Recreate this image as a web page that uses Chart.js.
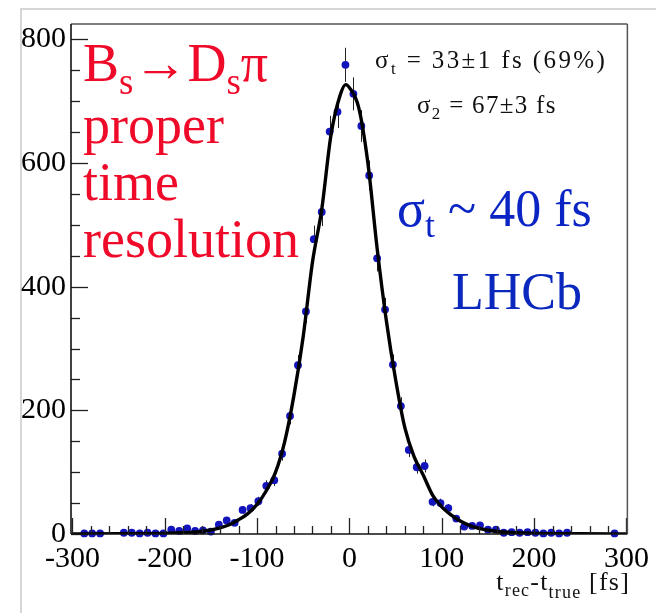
<!DOCTYPE html>
<html><head><meta charset="utf-8">
<script src="https://cdn.jsdelivr.net/npm/chart.js@4.4.1/dist/chart.umd.min.js"></script>
<style>
html,body{margin:0;padding:0;background:#fff;}
#wrap{position:relative;width:656px;height:613px;overflow:hidden;background:#fff;}
#c{position:absolute;left:0;top:0;}
.pad{position:absolute;left:20px;top:8px;width:640px;height:610px;border-top:2px solid #d6d6d6;border-left:2px solid #d6d6d6;}
.t{position:absolute;white-space:nowrap;font-family:"Liberation Serif","Times New Roman",serif;line-height:1;}
.sub{position:relative;}
</style></head>
<body><div id="wrap"><div class="pad"></div><canvas id="c" width="656" height="613"></canvas>
<div class="t" style="left:83px;top:35px;font-size:54px;line-height:57px;color:#f00a2a;">B<span class="sub" style="font-size:37px;top:13px">s</span>→D<span class="sub" style="font-size:37px;top:13px">s</span>π<br>proper<br>time<br>resolution</div>
<div class="t" style="left:375px;top:47px;font-size:25px;letter-spacing:2.4px;color:#111;">σ<span class="sub" style="font-size:17px;top:6px">t</span> = 33±1 fs (69%)</div>
<div class="t" style="left:417px;top:92px;font-size:25px;letter-spacing:1.3px;color:#111;">σ<span class="sub" style="font-size:17px;top:6px">2</span> = 67±3 fs</div>
<div class="t" style="left:397px;top:183px;font-size:52px;color:#0b24c4;">σ<span class="sub" style="font-size:36px;top:11px">t</span> ~ 40 fs</div>
<div class="t" style="left:452px;top:266px;font-size:52px;color:#0a28bd;">LHCb</div>
<div class="t" style="right:26px;top:569px;font-size:26px;letter-spacing:1.2px;color:#111;">t<span class="sub" style="font-size:18px;top:6px">rec</span>-t<span class="sub" style="font-size:18px;top:8px">true</span> [fs]</div>
</div>
<script>
const binCenters = [-295.7,-287.1,-278.6,-270.0,-261.4,-252.9,-244.3,-235.7,-227.1,-218.6,
 -210.0,-201.4,-192.9,-184.3,-175.7,-167.1,-158.6,-150.0,-141.4,-132.9,
 -124.3,-115.7,-107.1,-98.6,-90.0,-81.4,-72.9,-64.3,-55.7,-47.1,
 -38.6,-30.0,-21.4,-12.9,-4.3,4.3,12.9,21.4,30.0,38.6,
 47.1,55.7,64.3,72.9,81.4,90.0,98.6,107.1,115.7,124.3,
 132.9,141.4,150.0,158.6,167.1,175.7,184.3,192.9,201.4,210.0,
 218.6,227.1,235.7,244.3,252.9,261.4,270.0,278.6,287.1,295.7];
const counts = [null,1,1,1,null,null,2,2,1,2,
 1,1,7,5,9,5,6,4,15,22,
 18,39,42,53,78,87,130,191,273,360,
 477,521,651,683,759,712,660,580,446,363,
 274,207,136,108,110,52,50,42,25,12,
 13,14,7,7,2,3,2,3,2,1,
 2,1,2,null,null,null,null,null,1,null];
const fitX = [-300,-250,-200,-180,-160,-140,-130,-120,-110,-100,-90,-80,-70,-60,-50,-40,-30,-20,-10,-4,0,10,20,30,40,50,60,70,80,90,100,110,120,130,140,160,180,200,250,300];
const fitY = [0,0.3,1,2,4,10,15,23,33,48,70,100,150,225,320,440,525,645,710,727,722,690,600,462,345,250,172,125,95,63,44,31,21,14,9,4,2,1,0.3,0];
const xTicks = [-300,-200,-100,0,100,200,300];
const yTicks = [0,200,400,600,800];

const pts = [];
binCenters.forEach((c,i)=>{ if(counts[i]!==null) pts.push({x:c,y:counts[i]}); });
const fit = fitX.map((v,i)=>({x:v,y:fitY[i]}));
const FONT = '"Liberation Serif","Times New Roman",serif';

const errBars = {
  id:'errBars',
  beforeDatasetsDraw(chart){
    const {ctx, scales:{x,y}} = chart;
    ctx.save(); ctx.strokeStyle='#222'; ctx.lineWidth=1;
    pts.forEach(p=>{
      const e = Math.sqrt(p.y);
      const px = Math.round(x.getPixelForValue(p.x))+0.5;
      ctx.beginPath();
      ctx.moveTo(px, y.getPixelForValue(Math.max(0,p.y-e)));
      ctx.lineTo(px, y.getPixelForValue(p.y+e));
      ctx.stroke();
    });
    ctx.restore();
  }
};
const frameTicks = {
  id:'frameTicks',
  afterDraw(chart){
    const {ctx, chartArea:a, scales:{x,y}} = chart;
    ctx.save();
    const line=(x1,y1,x2,y2)=>{ctx.beginPath();ctx.moveTo(x1,y1);ctx.lineTo(x2,y2);ctx.stroke();};
    ctx.strokeStyle='#222'; ctx.lineWidth=1.3;
    for(let v=0; v<=800; v+=50){
      const py=Math.round(y.getPixelForValue(v))+0.5;
      line(a.left, py, a.left+(yTicks.includes(v)?17:9), py);
    }
    for(let v=-300; v<=300; v+=20){
      const px=Math.round(x.getPixelForValue(v))+0.5;
      line(px, a.bottom, px, a.bottom-(xTicks.includes(v)?16:8));
    }
    ctx.strokeStyle='#555'; ctx.lineWidth=1.5;
    line(a.left, a.top, a.right, a.top);
    line(a.right, a.top, a.right, a.bottom);
    ctx.strokeStyle='#111'; ctx.lineWidth=1.6;
    line(a.left, a.top, a.left, a.bottom);
    line(a.left, a.bottom, a.right, a.bottom);
    ctx.restore();
  }
};

new Chart(document.getElementById('c'), {
  type:'scatter',
  data:{ datasets:[
    {type:'line', data:fit, borderColor:'#000', borderWidth:3.4, pointRadius:0, cubicInterpolationMode:'monotone', fill:false, order:0},
    {type:'scatter', data:pts, backgroundColor:'#1414bc', borderWidth:0, pointRadius:3.9, order:1, clip:false}
  ]},
  options:{
    responsive:false, animation:false, devicePixelRatio:1,
    layout:{padding:{left:0, top:24, right:25, bottom:0}},
    plugins:{legend:{display:false}, tooltip:{enabled:false}},
    scales:{
      x:{type:'linear', min:-301.5, max:301,
        afterBuildTicks:s=>{s.ticks = xTicks.map(v=>({value:v}));},
        afterFit:s=>{s.height=79;},
        grid:{display:false, drawTicks:false}, border:{display:false},
        ticks:{font:{family:FONT,size:30}, color:'#000', padding:7, maxRotation:0, autoSkip:false, callback:v=>String(v)}},
      y:{type:'linear', min:0, max:825,
        afterBuildTicks:s=>{s.ticks = yTicks.map(v=>({value:v}));},
        afterFit:s=>{s.width=71;},
        grid:{display:false, drawTicks:false}, border:{display:false},
        ticks:{font:{family:FONT,size:30}, color:'#000', padding:5, autoSkip:false, callback:v=>String(v)}}
    }
  },
  plugins:[errBars, frameTicks]
});
</script>
</body></html>
